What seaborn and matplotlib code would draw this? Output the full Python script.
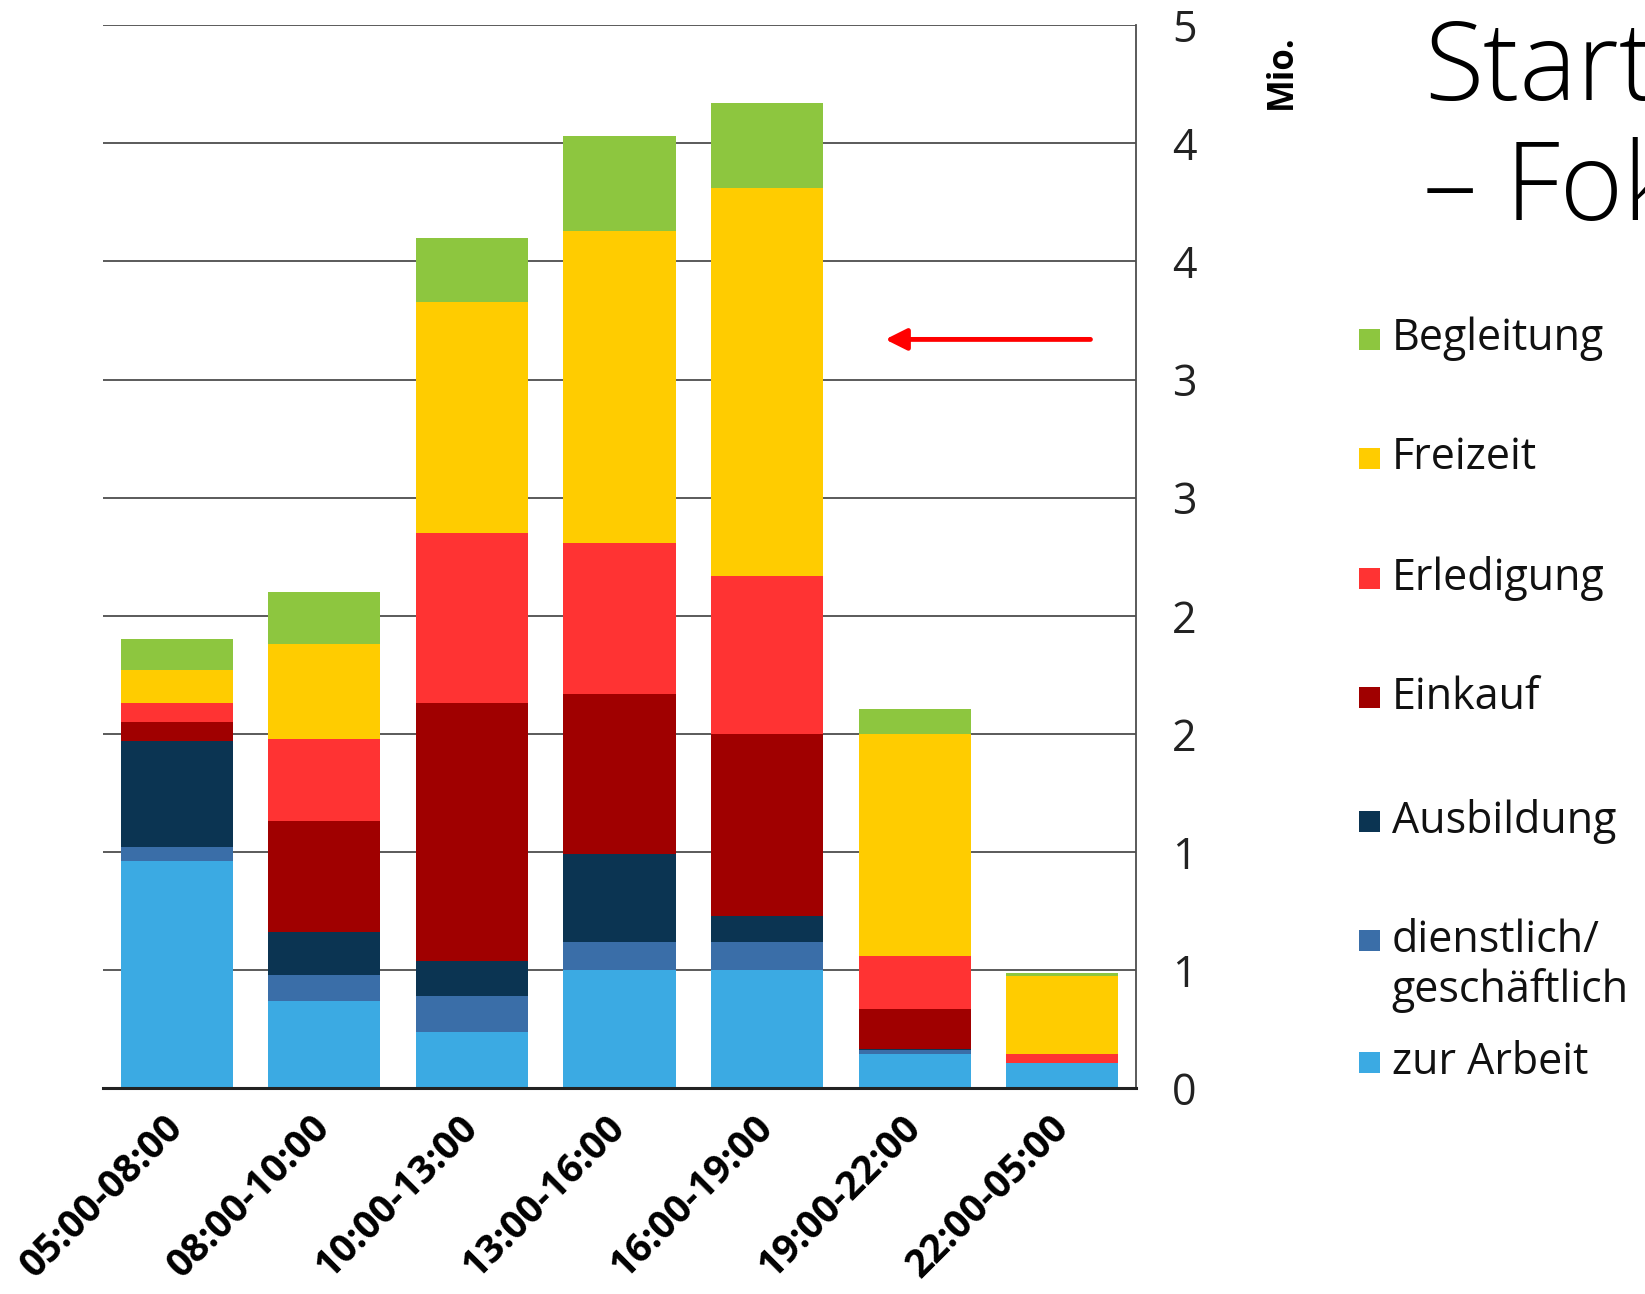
import numpy as np
import matplotlib
matplotlib.use("Agg")
import matplotlib.pyplot as plt
import matplotlib.patches as mpatches
import seaborn as sns

# ── daten: Wege nach Startzeit und Zweck (Mio.) ─────────────────────────────
slots = ["05:00-08:00", "08:00-10:00", "10:00-13:00", "13:00-16:00",
         "16:00-19:00", "19:00-22:00", "22:00-05:00"]

zur_arbeit = [0.96, 0.37, 0.24, 0.50, 0.50, 0.145, 0.107]
dienstlich = [0.06, 0.11, 0.15, 0.12, 0.12, 0.015, 0.0]
ausbildung = [0.45, 0.18, 0.15, 0.37, 0.11, 0.005, 0.0]
einkauf    = [0.08, 0.47, 1.09, 0.68, 0.77, 0.17, 0.0]
erledigung = [0.08, 0.35, 0.72, 0.64, 0.67, 0.225, 0.04]
freizeit   = [0.14, 0.40, 0.98, 1.32, 1.64, 0.94, 0.327]
begleitung = [0.13, 0.22, 0.27, 0.40, 0.36, 0.105, 0.014]

series_names = ["zur Arbeit", "dienstlich/\ngeschäftlich", "Ausbildung",
                "Einkauf", "Erledigung", "Freizeit", "Begleitung"]
y_ticks = [0, 0.5, 1.0, 1.5, 2.0, 2.5, 3.0, 3.5, 4.0, 4.5]
y_ticklabels = ["0", "1", "1", "2", "2", "3", "3", "4", "4", "5"]

# ── stil ────────────────────────────────────────────────────────────────────
COLORS = ["#3BAAE3", "#3A6EA8", "#0B3452", "#A00000",
          "#FF3333", "#FFCC00", "#8DC63F"]
GRID_CLR = "#4d4d4d"

sns.set_theme(style="white")
plt.rcParams["font.family"] = ["Open Sans", "DejaVu Sans"]

fig = plt.figure(figsize=(16.45, 12.94), dpi=100, facecolor="white")
ax = fig.add_axes([0.0625, 0.159, 0.6282, 0.8215])

series = [zur_arbeit, dienstlich, ausbildung, einkauf, erledigung, freizeit, begleitung]
tops = np.cumsum(np.array(series), axis=0)

# oberste Kumulation zuerst, darunterliegende ueberdecken
for i in range(len(series) - 1, -1, -1):
    sns.barplot(x=slots, y=tops[i], color=COLORS[i], saturation=1,
                width=0.76, linewidth=0, errorbar=None, ax=ax)

ax.set_xlim(-0.5, 6.5)
ax.set_ylim(0, 4.5)
ax.set_axisbelow(True)
ax.yaxis.grid(True, color=GRID_CLR, lw=1.3)
ax.xaxis.grid(False)

ax.yaxis.tick_right()
ax.set_yticks(y_ticks)
ax.set_yticklabels(y_ticklabels)
ax.tick_params(axis="y", length=0, pad=26, labelsize=31, labelcolor="#222222")

ax.set_xticks(range(len(slots)))
ax.set_xticklabels(slots, rotation=45, ha="right", va="center",
                   rotation_mode="anchor", fontweight="bold")
ax.tick_params(axis="x", length=0, pad=24, labelsize=28, labelcolor="black")
ax.set_xlabel("")
ax.set_ylabel("")

for s in ["top", "left"]:
    ax.spines[s].set_visible(False)
ax.spines["right"].set_color(GRID_CLR)
ax.spines["right"].set_linewidth(1.3)
ax.spines["bottom"].set_color("#222222")
ax.spines["bottom"].set_linewidth(2.2)

# roter Pfeil
ax.annotate("", xy=(4.8, 3.17), xytext=(6.19, 3.17),
            arrowprops=dict(arrowstyle="-|>", color="#FF0000", lw=3.5,
                            mutation_scale=32, shrinkA=0, shrinkB=0))

# Einheit
fig.text(0.779, 0.945, "Mio.", rotation=90, ha="center", va="center",
         fontsize=25, fontweight="bold", color="black")

# Folientitel (am Rand abgeschnitten wie im Original)
fig.text(0.866, 0.923, "Start", fontsize=78, fontweight="light",
         ha="left", va="baseline", color="black")
fig.text(0.865, 0.830, "\u2013 Fok", fontsize=78, fontweight="light",
         ha="left", va="baseline", color="black")

# ── legende ─────────────────────────────────────────────────────────────────
leg_order = [6, 5, 4, 3, 2, 1, 0]
leg_y = [0.738, 0.646, 0.553, 0.461, 0.365, 0.273, 0.179]
sq = 0.0128
for idx, y in zip(leg_order, leg_y):
    fig.patches.append(mpatches.Rectangle(
        (0.826, y - sq * 1645 / 1294 / 2), sq, sq * 1645 / 1294,
        transform=fig.transFigure, facecolor=COLORS[idx], edgecolor="none"))
    ty = y - 0.0195 if "\n" in series_names[idx] else y
    fig.text(0.846, ty, series_names[idx], fontsize=31, ha="left",
             va="center", color="#111111", linespacing=1.15)

fig.savefig("out.png", dpi=100)
